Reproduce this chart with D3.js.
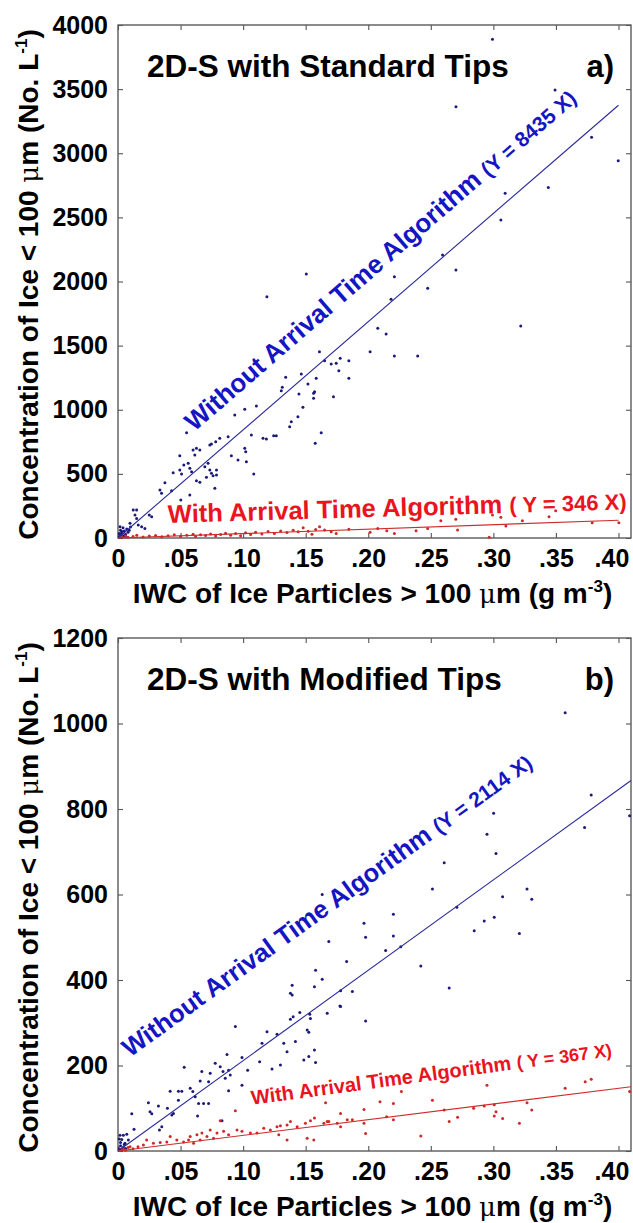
<!DOCTYPE html>
<html>
<head>
<meta charset="utf-8">
<script src="https://cdn.jsdelivr.net/npm/d3@7"></script>
<style>
  body { margin: 0; background: #fff; }
  svg { display: block; }
  text { font-family: "Liberation Sans", Arial, Helvetica, sans-serif; font-weight: bold; }
</style>
</head>
<body>
<svg id="chart" width="633" height="1223"></svg>
<script>
// ---- shared axis ticks (IWC of ice particles > 100 um, g m^-3) ----
const xTicks = [0, 0.05, 0.10, 0.15, 0.20, 0.25, 0.30, 0.35, 0.40];
const xTickLabels = ["0", ".05", ".10", ".15", ".20", ".25", ".30", ".35", ".40"];
const xMax = 0.41;

// ---- panel a: 2D-S with standard tips ----
const yTicksStandard = [0, 500, 1000, 1500, 2000, 2500, 3000, 3500, 4000];
const slopeStandardWithout = 8435;
const slopeStandardWith = 346;
const fitEndStandard = 0.40;

// concentration without arrival-time filtering, [IWC, No. L^-1]
const standardWithout = [
  [0.1505,2058],[0.119,1882],[0.161,1453],[0.1465,1279],[0.134,1253],[0.1584,1245],[0.1518,1201],
  [0.1313,1175],[0.1305,1149],[0.1446,1123],[0.1563,1128],[0.1563,1089],[0.1478,1019],[0.1106,1029],
  [0.1013,1003],[0.0933,959],[0.1438,946],[0.1385,907],[0.1372,868],[0.1624,821],[0.1576,738],
  [0.1066,803],[0.1159,777],[0.1186,772],[0.1244,798],[0.1265,798],[0.0548,821],[0.088,790],
  [0.0813,777],[0.0781,751],[0.0747,733],[0.0734,725],[0.0627,699],[0.06,686],[0.0654,686],
  [0.0494,642],[0.0614,647],[0.0906,642],[0.0959,608],[0.1013,699],[0.1021,673],[0.1026,595],
  [0.0561,582],[0.0526,569],[0.0574,543],[0.0494,530],[0.0441,509],[0.0508,499],[0.0588,517],
  [0.0694,556],[0.072,582],[0.0734,530],[0.0747,504],[0.0707,473],[0.0787,530],[0.076,486],
  [0.0787,491],[0.0627,447],[0.0654,434],[0.0375,431],[0.0335,374],[0.0348,348],[0.0428,369],
  [0.0774,387],[0.1085,499],[0.0502,296],[0.0574,335],[0.0122,218],[0.0149,218],[0.0136,179],
  [0.0149,153],[0.025,179],[0.0269,166],[0.0162,101],[0.0189,88],[0.0215,75],[0.0096,115],[0.0016,88],
  [0.001,10],[0.002,25],[0.003,40],[0.004,15],[0.005,55],[0.006,30],[0.002,60],[0.007,70],[0.008,45],
  [0.003,5],[0.001,35],[0.004,80],[0.006,10],[0.009,60],[0.010,85],[0.005,20],[0.003,50],
  [0.2475,1947],[0.2182,1861],[0.3219,1653],[0.2076,1635],[0.2143,1591],[0.2015,1453],[0.2209,1419],
  [0.2395,1419],[0.1651,1383],[0.1704,1357],[0.1744,1362],[0.1776,1401],[0.1845,1383],[0.1765,1305],
  [0.1845,1245],[0.1571,1141],[0.1722,1102],
  [0.2993,3888],[0.2701,3363],[0.3493,3493],[0.3785,3124],[0.3998,2942],[0.3094,2688],[0.3439,2732],
  [0.306,2480],[0.2594,2207],[0.2701,2090],[0.2209,2038]
];

// concentration with arrival-time filtering
const standardWith = [
  [0.003,10],[0.006,18],[0.008,5],[0.012,12],[0.015,22],[0.02,8],[0.025,15],[0.03,20],[0.035,10],
  [0.04,18],[0.045,25],[0.05,14],[0.055,22],[0.06,30],[0.062,12],[0.066,26],[0.07,20],[0.074,32],
  [0.078,15],[0.082,28],[0.086,38],[0.09,22],[0.094,35],[0.098,18],[0.102,40],[0.106,28],[0.11,45],
  [0.115,32],[0.12,50],[0.125,36],[0.13,55],[0.135,42],[0.14,60],[0.144,48],[0.148,80],[0.152,52],
  [0.155,30],[0.158,66],[0.1611,88],[0.1651,62],[0.1704,49],[0.1744,36],[0.1845,68],[0.2015,44],
  [0.2076,75],[0.2148,57],[0.2209,36],[0.2382,57],[0.2475,75],[0.258,135],[0.27,146],[0.2714,62],
  [0.2993,179],[0.306,161],[0.31,94],[0.3232,135],[0.3445,166],[0.3498,213],[0.379,119],[0.4003,119],
  [0.2967,5]
];

// ---- panel b: 2D-S with modified tips ----
const yTicksModified = [0, 200, 400, 600, 800, 1000, 1200];
const slopeModifiedWithout = 2114;
const slopeModifiedWith = 367;
const fitEndModified = 0.41;

const modifiedWithout = [
  [0.1632,600],[0.1685,490],[0.1579,423],[0.1632,402],[0.157,384],[0.1392,388],[0.1378,369],[0.1392,365],
  [0.0938,291],[0.1191,279],[0.1271,273],[0.1378,308],[0.14,314],[0.1453,324],[0.1533,320],[0.1538,310],
  [0.1512,283],[0.1525,278],[0.1672,322],[0.1774,339],[0.1151,252],[0.1418,256],[0.1325,252],[0.1485,213],
  [0.1525,221],[0.1579,207],[0.157,236],[0.1231,192],[0.1298,201],[0.1351,232],[0.1036,189],[0.1132,209],
  [0.0991,219],[0.0871,226],[0.0777,205],[0.0817,197],[0.0839,186],[0.0884,189],[0.0897,178],[0.0991,154],
  [0.0884,141],[0.0857,170],[0.0737,182],[0.0724,162],[0.067,186],[0.0657,164],[0.0529,196],[0.0577,147],
  [0.0598,139],[0.0617,127],[0.0644,111],[0.0684,111],[0.0724,111],[0.0636,82],[0.051,140],[0.0483,140],
  [0.0417,140],[0.0483,119],[0.043,84],[0.0443,88],[0.0395,100],[0.0323,105],[0.0243,113],[0.0256,92],
  [0.027,87],[0.011,87],[0.0128,51],[0.035,57],[0.0331,49],[0.0831,71],[0.0016,37],[0.0043,37],
  [0.007,39],[0.003,27],[0.0083,26],[0.0056,18],
  [0.001,5],[0.002,12],[0.003,3],[0.004,8],[0.005,15],[0.002,20],[0.006,6],[0.001,28],
  [0.3782,833],[0.3729,757],[0.3002,790],[0.2949,741],[0.3021,696],[0.2607,674],[0.2513,613],[0.2708,570],
  [0.3074,595],[0.3269,613],[0.3307,589],[0.3007,547],[0.2927,538],[0.2847,515],[0.3208,509],[0.2201,554],
  [0.2201,503],[0.1966,533],[0.1979,500],[0.2139,469],[0.226,478],[0.1827,443],[0.242,433],[0.1779,375],
  [0.1873,373],[0.1779,338],[0.1979,304],[0.2647,381],[0.4089,784],[0.3574,1025]
];

const modifiedWith = [
  [0.0283,18],[0.0337,20],[0.0417,34],[0.047,26],[0.0524,21],[0.0577,34],[0.0631,38],[0.0657,26],
  [0.0711,34],[0.0764,30],[0.0791,42],[0.0844,46],[0.0884,38],[0.0951,49],[0.0991,46],[0.1058,42],
  [0.1111,42],[0.1165,53],[0.1218,49],[0.1271,57],[0.1298,59],[0.1351,61],[0.1378,69],[0.1432,57],
  [0.1498,65],[0.1538,71],[0.157,77],[0.1645,65],[0.1685,69],[0.1752,65],[0.1351,26],[0.1512,30],
  [0.1565,26],[0.1285,38],[0.0938,94],[0.0817,71],[0.0203,14],[0.0096,10],[0.0229,26],[0.0604,18],
  [0.039,21],[0.0737,49],[0.0671,42],[0.0564,26],
  [0.002,3],[0.004,6],[0.006,2],[0.008,8],[0.012,5],[0.016,10],
  [0.2265,139],[0.2094,115],[0.2201,111],[0.2513,119],[0.2949,154],[0.3574,147],[0.3734,162],[0.3782,168],
  [0.4089,139],[0.1779,88],[0.1966,97],[0.1966,65],[0.1979,41],[0.1779,57],[0.1672,69],[0.1873,73],
  [0.1832,73],[0.2201,73],[0.2147,80],[0.242,35],[0.2647,69],[0.2714,79],[0.2842,100],[0.2927,105],
  [0.3007,108],[0.3021,92],[0.3007,82],[0.3074,76],[0.3208,65],[0.3269,113],[0.3307,96],[0.2607,96],
  [0.1659,113]
];

// ---- colours ----
const blueDot = "#1a1a78", blueLine = "#2a2a9c", blueText = "#1515c4";
const redDot = "#d02828", redLine = "#cf2b2b", redText = "#ea1320";

const svg = d3.select("#chart");
const left = 118, right = 631;
const x = d3.scaleLinear().domain([0, xMax]).range([left, right]);

function panel(opts) {
  const { top, bottom, yTicks, without, withAT, slopeW, slopeA, fitEnd,
          title, tag, blueLabel, blueEq, redLabel, redEq,
          blueAnchor, redAnchor, redAngle, fs } = opts;
  const yMax = yTicks[yTicks.length - 1];
  const y = d3.scaleLinear().domain([0, yMax]).range([bottom, top]);
  const g = svg.append("g");

  // axes with inward ticks on all four sides
  const tickLen = 5;
  const xb = d3.axisBottom(x).tickValues(xTicks).tickFormat((d, i) => xTickLabels[i])
    .tickSizeInner(-tickLen).tickSizeOuter(0).tickPadding(11);
  const gx = g.append("g").attr("transform", `translate(0,${bottom})`).call(xb);
  const yl = d3.axisLeft(y).tickValues(yTicks).tickFormat(d3.format("d"))
    .tickSizeInner(-tickLen).tickSizeOuter(0).tickPadding(10);
  const gy = g.append("g").attr("transform", `translate(${left},0)`).call(yl);
  const xt = d3.axisTop(x).tickValues(xTicks).tickFormat("").tickSizeInner(-tickLen).tickSizeOuter(0);
  const gxt = g.append("g").attr("transform", `translate(0,${top})`).call(xt);
  const yr = d3.axisRight(y).tickValues(yTicks).tickFormat("").tickSizeInner(-tickLen).tickSizeOuter(0);
  const gyr = g.append("g").attr("transform", `translate(${right},0)`).call(yr);
  [gx, gy, gxt, gyr].forEach(a => {
    a.select(".domain").remove();
    a.selectAll(".tick line").attr("stroke", "#555").attr("stroke-width", 1.1);
    a.selectAll("text").attr("fill", "#000").style("font-size", "25px")
      .style("font-family", "'Liberation Sans', Arial, sans-serif").style("font-weight", "bold");
  });
  // keep the last x label inside the figure edge
  gx.selectAll(".tick text").filter((d, i) => i === xTicks.length - 1).attr("dx", -7);

  g.append("rect").attr("x", left).attr("y", top)
    .attr("width", right - left).attr("height", bottom - top)
    .attr("fill", "none").attr("stroke", "#5a5a5a").attr("stroke-width", 1.4);

  // scatter
  g.append("g").selectAll("circle").data(without).join("circle")
    .attr("cx", d => x(d[0])).attr("cy", d => y(d[1])).attr("r", 1.5).attr("fill", blueDot);
  g.append("g").selectAll("circle").data(withAT).join("circle")
    .attr("cx", d => x(d[0])).attr("cy", d => y(d[1])).attr("r", 1.5).attr("fill", redDot);

  // fitted lines through the origin
  const line = d3.line().x(d => x(d[0])).y(d => y(d[1]));
  g.append("path").datum([[0, 0], [fitEnd, slopeW * fitEnd]]).attr("d", line)
    .attr("stroke", blueLine).attr("stroke-width", 1.1).attr("fill", "none");
  g.append("path").datum([[0, 0], [fitEnd, slopeA * fitEnd]]).attr("d", line)
    .attr("stroke", redLine).attr("stroke-width", 1.1).attr("fill", "none");

  // labels
  const blueAngle = Math.atan2(y(slopeW * fitEnd) - y(0), x(fitEnd) - x(0)) * 180 / Math.PI;
  const bt = g.append("text").attr("fill", blueText)
    .attr("transform", `translate(${x(blueAnchor[0])},${y(blueAnchor[1])}) rotate(${blueAngle})`);
  bt.append("tspan").style("font-size", fs.blue[0] + "px").text(blueLabel + " ");
  bt.append("tspan").style("font-size", fs.blue[1] + "px").text(blueEq);

  const rt = g.append("text").attr("fill", redText)
    .attr("transform", `translate(${x(redAnchor[0])},${y(redAnchor[1])}) rotate(${redAngle})`);
  rt.append("tspan").style("font-size", fs.red[0] + "px").text(redLabel + " ");
  rt.append("tspan").style("font-size", fs.red[1] + "px").text(redEq);

  g.append("text").attr("x", 147).attr("y", top + 52).style("font-size", "31.5px").text(title);
  g.append("text").attr("x", 614).attr("y", top + 52).attr("text-anchor", "end")
    .style("font-size", "31px").text(tag);

  // axis titles
  const xl = g.append("text").attr("x", (left + right) / 2 - 2).attr("y", bottom + 65)
    .attr("text-anchor", "middle").style("font-size", "28px");
  xl.append("tspan").text("IWC of Ice Particles > 100 ");
  xl.append("tspan").style("font-weight", "normal").style("font-family", "'DejaVu Serif', serif")
    .style("font-size", "26px").text("\u03bc");
  xl.append("tspan").text("m (g m");
  xl.append("tspan").attr("dy", -11).style("font-size", "17px").text("-3");
  xl.append("tspan").attr("dy", 11).text(")");

  const yc = (top + bottom) / 2 + 3;
  const ylb = g.append("text").attr("transform", `translate(38,${yc}) rotate(-90)`)
    .attr("text-anchor", "middle").style("font-size", "28px");
  ylb.append("tspan").text("Concentration of Ice < 100 ");
  ylb.append("tspan").style("font-weight", "normal").style("font-family", "'DejaVu Serif', serif")
    .style("font-size", "26px").text("\u03bc");
  ylb.append("tspan").text("m (No. L");
  ylb.append("tspan").attr("dy", -11).style("font-size", "17px").text("-1");
  ylb.append("tspan").attr("dy", 11).text(")");
}

panel({
  top: 25, bottom: 538, yTicks: yTicksStandard,
  without: standardWithout, withAT: standardWith,
  slopeW: slopeStandardWithout, slopeA: slopeStandardWith, fitEnd: fitEndStandard,
  title: "2D-S with Standard Tips", tag: "a)",
  blueLabel: "Without Arrival Time Algorithm", blueEq: `(Y = ${slopeStandardWithout} X)`,
  redLabel: "With Arrival Time Algorithm", redEq: `( Y = ${slopeStandardWith} X)`,
  blueAnchor: [0.061, 826], redAnchor: [0.04, 117], redAngle: -1.7,
  fs: { blue: [26, 21], red: [25.5, 22] }
});

panel({
  top: 638, bottom: 1151, yTicks: yTicksModified,
  without: modifiedWithout, withAT: modifiedWith,
  slopeW: slopeModifiedWithout, slopeA: slopeModifiedWith, fitEnd: fitEndModified,
  title: "2D-S with Modified Tips", tag: "b)",
  blueLabel: "Without Arrival Time Algorithm", blueEq: `(Y = ${slopeModifiedWithout} X)`,
  redLabel: "With Arrival Time Algorithm", redEq: `( Y = ${slopeModifiedWith} X)`,
  blueAnchor: [0.0096, 218], redAnchor: [0.107, 108], redAngle: -7.7,
  fs: { blue: [25.5, 21], red: [20, 18] }
});
</script>
</body>
</html>
